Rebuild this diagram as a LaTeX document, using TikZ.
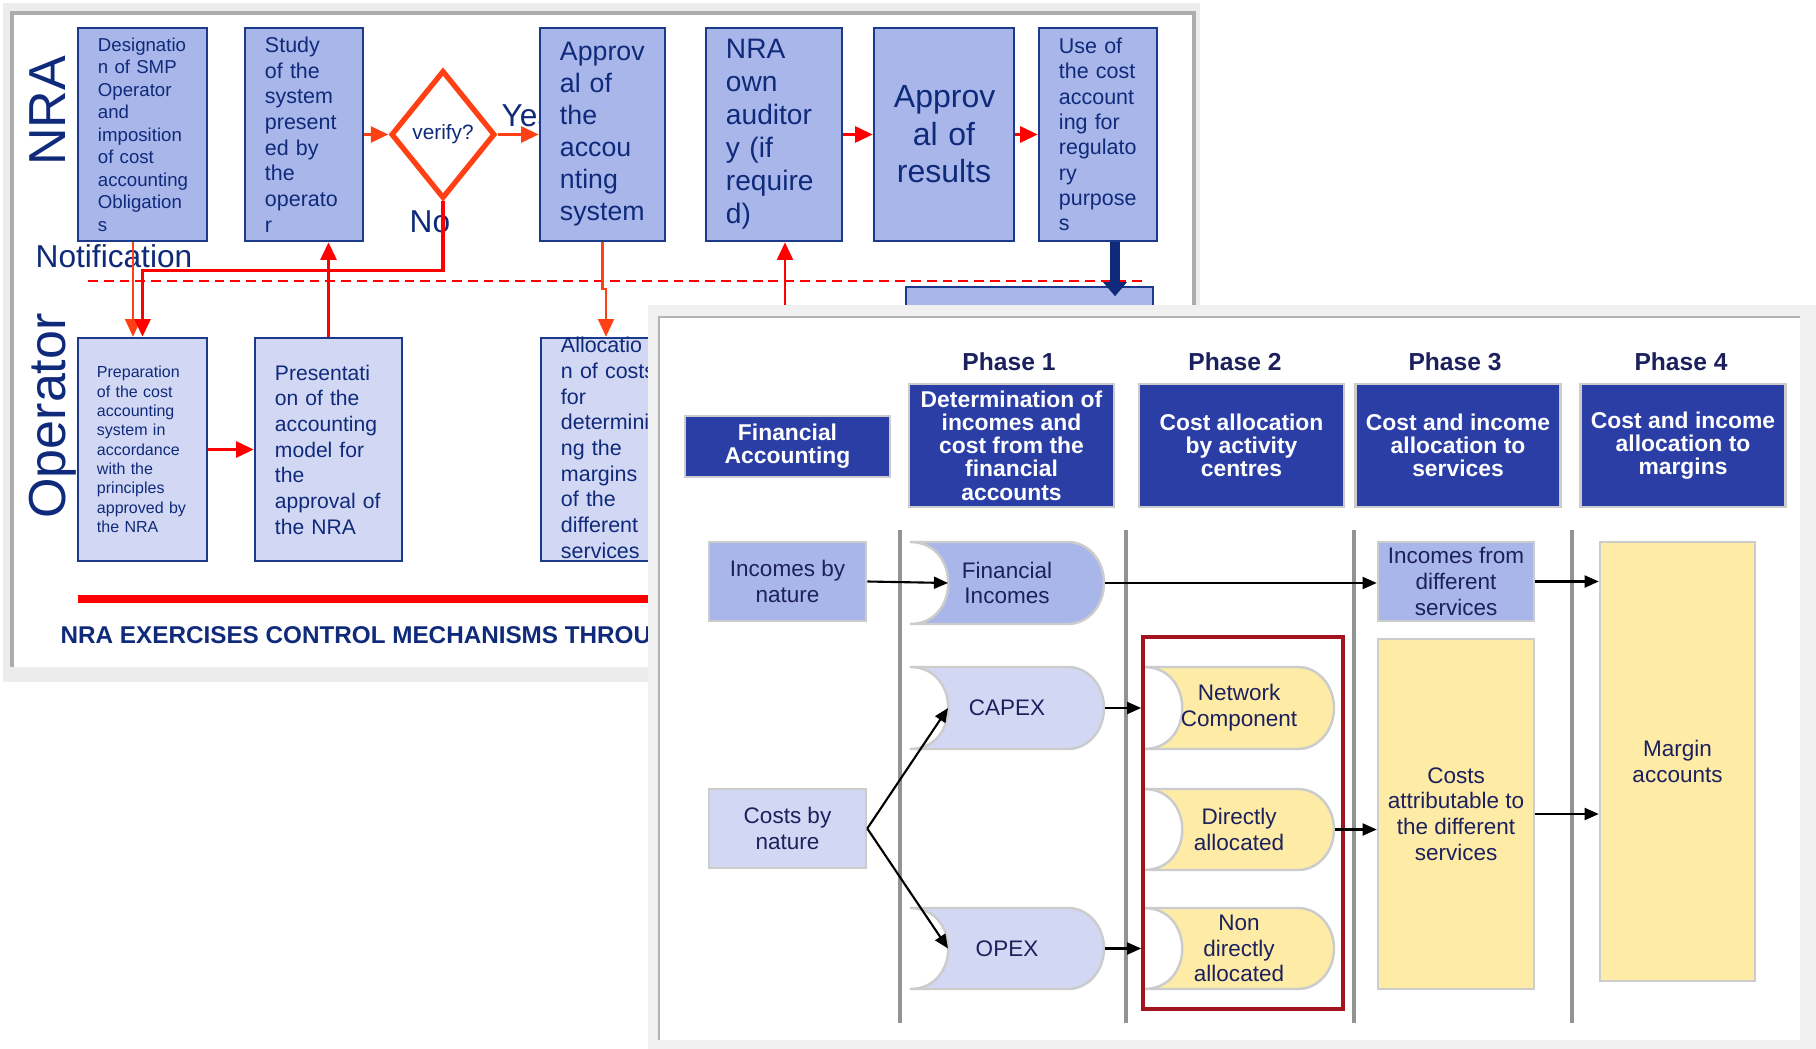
\documentclass[tikz,border=0pt]{standalone}
\usepackage{fontspec}
\setmainfont{Liberation Sans}
\usetikzlibrary{arrows.meta,positioning,shapes.geometric}

\definecolor{boxB}{HTML}{A9B6EA}
\definecolor{boxL}{HTML}{D2D8F4}
\definecolor{navyB}{HTML}{1B3A8C}
\definecolor{navyT}{HTML}{0F2A7A}
\definecolor{oRed}{HTML}{FF4014}
\definecolor{hdrB}{HTML}{2A3EA6}
\definecolor{yel}{HTML}{FDEBA6}
\definecolor{bodyT}{HTML}{1C205C}
\definecolor{frameR}{HTML}{A3121F}

\newcommand{\fsz}[2]{\fontsize{#1}{#2}\selectfont}
% box with a hollow left side and a round right end
\newcommand{\dly}[7]{%
  \draw[dlyline, fill=#6] (#2,#3) -- ({#4-36},#3)
    .. controls ({#4-16},#3) and (#4,{#3+0.224*(#5-#3)}) .. (#4,{(#3+#5)/2})
    .. controls (#4,{#5-0.224*(#5-#3)}) and ({#4-16},#5) .. ({#4-36},#5)
    -- (#2,#5) .. controls ({#2+51},#5) and ({#2+51},#3) .. (#2,#3) -- cycle;
  \node[dlytxt, minimum width={(#4-#2)*0.01cm}, minimum height={(#5-#3)*0.01cm}] (#1) at ({(#2+#4)/2},{(#3+#5)/2}) {#7};
  \coordinate (#1in) at ({#2+38},{(#3+#5)/2});}

\begin{document}
\begin{tikzpicture}[x=0.01cm, y=-0.01cm,
    nra/.style={draw=navyB, line width=0.7pt, fill=boxB, text=navyT, align=left, inner xsep=0.2cm, inner ysep=0pt, minimum height=2.13cm},
    opb/.style={nra, fill=boxL, minimum height=2.23cm},
    lab/.style={text=navyT, inner sep=0pt},
    ra/.style={-{Triangle[length=5pt,width=4.5pt]}, line width=0.9pt, red},
    oa/.style={ra, draw=oRed},
    hdr/.style={draw=gray!40, line width=0.7pt, fill=hdrB, text=white, align=center, inner sep=0pt, minimum width=2.05cm, font=\bfseries\fsz{6.5}{6.6}},
    phlab/.style={text=bodyT, font=\bfseries\fsz{7}{8}},
    inc/.style={draw=gray!40, line width=0.7pt, text=bodyT, align=center, inner sep=0pt, font=\fsz{6.4}{7.3}},
    dlyline/.style={draw=gray!40, line width=0.7pt},
    dlytxt/.style={text=bodyT, align=center, inner sep=0pt, font=\fsz{6.4}{7.3}},
    phsep/.style={gray!85, line width=0.9pt},
    ka/.style={-{Triangle[length=4pt,width=3.4pt]}, line width=0.6pt}
  ]
  \useasboundingbox (0,0) rectangle (1816,1049);
  \fill[white] (0,0) rectangle (1816,1049);

  % back slide: NRA / operator
  \fill[gray!15] (3,3) rectangle (1200,682);
  \fill[white] (12,13) rectangle (1194,667);
  \draw[gray!65, line width=1pt] (12,667) -- (12,13) -- (1194,13) -- (1194,667);
  \draw[red, line width=0.6pt, dash pattern=on 2.8pt off 1.7pt] (88,281) -- (1146,281);

  \node[lab, rotate=90, anchor=base, font=\fsz{14.8}{16}] (nralab) at (65,111) {NRA};
  \node[lab, rotate=90, anchor=base, font=\fsz{14.8}{16}] (oplab) at (65,416) {Operator};
  \node[lab, anchor=base west, font=\fsz{9}{10}] (notif) at (35,268) {Notification};
  \node[lab, anchor=base west, font=\fsz{9}{10}] (nolab) at (409,233) {No};
  \node[lab, anchor=base west, font=\fsz{9}{10}] (yeslab) at (501,127) {Yes};

  \node[nra, minimum width=1.29cm, text width=0.89cm, font=\fsz{5.3}{6.4}] (desig) at (142.5,134.5)
    {Designatio\\n of SMP\\Operator\\and\\imposition\\of cost\\accounting\\Obligation\\s};
  \node[nra, minimum width=1.18cm, text width=0.78cm, font=\fsz{6.1}{7.3}] (study) at (304,134.5)
    {Study\\of the\\system\\present\\ed by\\the\\operato\\r};
  \node[diamond, draw=oRed, line width=1.5pt, fill=white, inner sep=0pt, minimum width=1.04cm, minimum height=1.28cm, text=navyT, font=\fsz{5.9}{7}] (verify) at (443,134.5) {verify?};
  \node[nra, minimum width=1.25cm, text width=0.85cm, font=\fsz{7.6}{9.1}] (apsys) at (602.5,134.5)
    {Approv\\al of\\the\\accou\\nting\\system};
  \node[nra, minimum width=1.36cm, text width=0.96cm, font=\fsz{8}{9.4}] (audit) at (774,134.5)
    {NRA\\own\\auditor\\y (if\\require\\d)};
  \node[nra, minimum width=1.40cm, text width=1.0cm, align=center, font=\fsz{9.1}{10.7}] (result) at (944,134.5)
    {Approv\\al of\\results};
  \node[nra, minimum width=1.18cm, text width=0.78cm, font=\fsz{6.1}{7.2}] (usecost) at (1098,134.5)
    {Use of\\the cost\\account\\ing for\\regulato\\ry\\purpose\\s};

  \node[opb, minimum width=1.29cm, inner xsep=0.19cm, text width=0.91cm, font=\fsz{4.55}{5.5}] (prep) at (142.5,449.5)
    {Preparation\\of the cost\\accounting\\system in\\accordance\\with the\\principles\\approved by\\the NRA};
  \node[opb, minimum width=1.47cm, text width=1.07cm, font=\fsz{6}{7.3}] (pres) at (328.5,449.5)
    {Presentati\\on of the\\accounting\\model for\\the\\approval of\\the NRA};
  \node[opb, minimum width=1.40cm, text width=1.0cm, text height=0.15cm, text depth=2.08cm, font=\fsz{6.1}{7.3}] (alloc) at (611,449.5)
    {Allocatio\\n of costs\\for\\determini\\ng the\\margins\\of the\\different\\services};
  \node[nra, minimum width=2.47cm, minimum height=1.2cm] (regbox) at (1029.5,347) {};
  \coordinate (audsrc) at (785,330);

  \draw[oa] (study.east) -- (verify.west);
  \draw[oa] (verify.east) -- (apsys.west);
  \draw[ra] (audit.east) -- (result.west);
  \draw[ra] (result.east) -- (usecost.west);
  \draw[oa, line width=0.6pt] ([xshift=-0.095cm]desig.south) -- ([xshift=-0.095cm]desig.south |- prep.north);
  \draw[ra] (verify.south) -- ++(0,69) -| (prep.north);
  \draw[ra] (pres.north) -- (pres.north |- study.south);
  \draw[ra] (prep.east) -- (pres.west);
  \draw[oa, line width=0.6pt] (apsys.south) -- ++(0,47) -| ([xshift=-0.05cm]alloc.north);
  \draw[ra, line width=0.7pt] (audsrc) -- (audsrc |- audit.south);
  \draw[-{Triangle[length=4pt,width=6.5pt]}, line width=2.6pt, navyT] ([xshift=0.17cm]usecost.south) -- ++(0,54);

  \draw[red, line width=2pt] (78,599) -- (700,599);
  \node[lab, anchor=base west, font=\bfseries\fsz{6.9}{8}] (ctrl) at (60,643) {NRA EXERCISES CONTROL MECHANISMS THROUGH};

  % front slide: the four phases
  \fill[gray!12] (648,305) rectangle (1816,1049);
  \fill[white] (659,317) rectangle (1800,1040);
  \draw[gray!60, line width=0.8pt] (659,1040) -- (659,317) -- (1800,317);

  \foreach \x/\n in {1009/1, 1235/2, 1455/3, 1681/4}
    \node[phlab] (phl\n) at (\x,362) {Phase \n};
  \node[hdr, minimum height=0.61cm] (finacc) at (787.5,446.5) {Financial\\Accounting};
  \node[hdr, minimum height=1.23cm] (ph1) at (1011.5,445.5) {Determination of\\incomes and\\cost from the\\financial\\accounts};
  \node[hdr, minimum height=1.23cm] (ph2) at (1241.5,445.5) {Cost allocation\\by activity\\centres};
  \node[hdr, minimum height=1.23cm] (ph3) at (1458,445.5) {Cost and income\\allocation to\\services};
  \node[hdr, minimum height=1.23cm] (ph4) at (1683,445.5) {Cost and income\\allocation to\\margins};

  \foreach \x in {900,1126,1354,1572}
    \draw[phsep] (\x,530) -- (\x,1023);

  \node[inc, fill=boxB, minimum width=1.57cm, minimum height=0.79cm] (incnat) at (787.5,581.5) {Incomes by\\nature};
  \node[inc, fill=boxL, minimum width=1.57cm, minimum height=0.79cm] (costnat) at (787.5,828.5) {Costs by\\nature};
  \dly{fin}{910}{542}{1104}{624}{boxB}{Financial\\Incomes}
  \dly{capex}{910}{667}{1104}{749}{boxL}{CAPEX}
  \dly{opex}{910}{908}{1104}{989}{boxL}{OPEX}
  \dly{netc}{1144}{667}{1334}{749}{yel}{Network\\Component}
  \dly{dira}{1144}{789}{1334}{870}{yel}{Directly\\allocated}
  \dly{ndir}{1144}{908}{1334}{989}{yel}{Non\\directly\\allocated}
  \node[draw=frameR, line width=1pt, minimum width=2.0cm, minimum height=3.72cm, inner sep=0pt] (grp) at (1243,823) {};
  \node[inc, fill=boxB, minimum width=1.56cm, minimum height=0.79cm] (ifs) at (1456,581.5) {Incomes from\\different\\services};
  \node[inc, fill=yel, minimum width=1.56cm, minimum height=3.5cm] (cattr) at (1456,814) {Costs\\attributable to\\the different\\services};
  \node[inc, fill=yel, minimum width=1.55cm, minimum height=4.39cm] (marg) at (1677.5,761.5) {Margin\\accounts};

  \draw[ka] (incnat.east) -- (finin);
  \draw[ka] (fin.east) -- (fin.east -| ifs.west);
  \draw[ka] (ifs.east) -- (ifs.east -| marg.west);
  \draw[ka] (costnat.east) -- (capexin);
  \draw[ka] (costnat.east) -- (opexin);
  \draw[ka] (capex.east) -- (capex.east -| grp.west);
  \draw[ka] (opex.east) -- (opex.east -| grp.west);
  \draw[ka] (dira.east) -- (dira.east -| cattr.west);
  \draw[ka] (cattr.east) -- (cattr.east -| marg.west);
\end{tikzpicture}
\end{document}
